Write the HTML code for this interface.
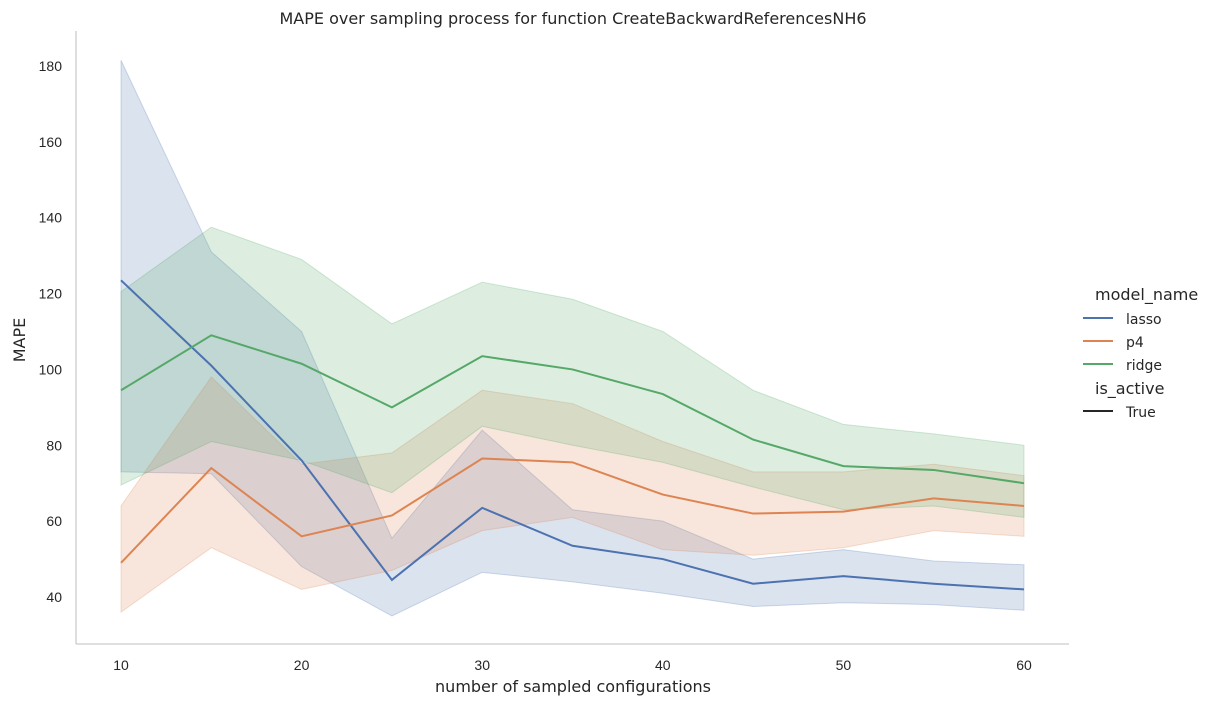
<!DOCTYPE html>
<html><head><meta charset="utf-8"><style>
body{margin:0;background:#fff;}
svg text{font-family:"DejaVu Sans","Liberation Sans",sans-serif;fill:#262626;}
svg text.tk{font-family:"Liberation Sans","DejaVu Sans",sans-serif;}
</style></head><body>
<svg id="chart" width="1216" height="706">
<text x="573" y="24" font-size="16" text-anchor="middle">MAPE over sampling process for function CreateBackwardReferencesNH6</text>
<g id="bands"></g><g id="lines"></g>
<line x1="76" y1="31" x2="76" y2="644" stroke="#ccc" stroke-width="1.3"/>
<line x1="76" y1="644" x2="1069" y2="644" stroke="#ccc" stroke-width="1.3"/>
<g id="xt"></g><g id="yt"></g>
<text x="573" y="692" font-size="16" text-anchor="middle">number of sampled configurations</text>
<text transform="translate(25,340) rotate(-90)" font-size="16" text-anchor="middle">MAPE</text>
<g>
<text x="1095" y="300" font-size="16">model_name</text>
<line x1="1083" y1="318" x2="1113" y2="318" stroke="#4c72b0" stroke-width="2"/><text x="1126" y="324" font-size="14">lasso</text>
<line x1="1083" y1="341" x2="1113" y2="341" stroke="#dd8452" stroke-width="2"/><text x="1126" y="347" font-size="14">p4</text>
<line x1="1083" y1="364" x2="1113" y2="364" stroke="#55a868" stroke-width="2"/><text x="1126" y="370" font-size="14">ridge</text>
<text x="1095" y="394" font-size="16">is_active</text>
<line x1="1083" y1="411" x2="1113" y2="411" stroke="#262626" stroke-width="2"/><text x="1126" y="417" font-size="14">True</text>
</g>
</svg>
<script>
const xs=[10,15,20,25,30,35,40,45,50,55,60];
const xTicks=[10,20,30,40,50,60];
const yTicks=[40,60,80,100,120,140,160,180];
const lassoMean=[123.5,101,76,44.5,63.5,53.5,50,43.5,45.5,43.5,42];
const lassoHi=[181.5,131,110,55.5,84,63,60,50,52.5,49.5,48.5];
const lassoLo=[73,72.5,48,35,46.5,44,41,37.5,38.5,38,36.5];
const p4Mean=[49,74,56,61.5,76.5,75.5,67,62,62.5,66,64];
const p4Hi=[64,98,75,78,94.5,91,81,73,73,75,72];
const p4Lo=[36,53,42,47,57.5,61,52.5,51,53,57.5,56];
const ridgeMean=[94.5,109,101.5,90,103.5,100,93.5,81.5,74.5,73.5,70];
const ridgeHi=[120.5,137.5,129,112,123,118.5,110,94.5,85.5,83,80];
const ridgeLo=[69.5,81,76,67.5,85,80,75.5,69,63,64,61];
const X=v=>121+(v-10)*(1024-121)/50;
const Y=v=>597-(v-40)*(597-66)/140;
const NS='http://www.w3.org/2000/svg';
function mk(t,a,p){const e=document.createElementNS(NS,t);for(const k in a)e.setAttribute(k,a[k]);p.appendChild(e);return e;}
const xt=document.getElementById('xt'),yt=document.getElementById('yt');
xTicks.forEach(v=>{const t=mk('text',{x:X(v),y:670,'font-size':14,'text-anchor':'middle',class:'tk'},xt);t.textContent=v;

});
yTicks.forEach(v=>{const t=mk('text',{x:62,y:Y(v)+5,'font-size':14,'text-anchor':'end',class:'tk'},yt);t.textContent=v;

});
const series=[['lasso','#4c72b0',lassoMean,lassoHi,lassoLo],['p4','#dd8452',p4Mean,p4Hi,p4Lo],['ridge','#55a868',ridgeMean,ridgeHi,ridgeLo]];
const B=document.getElementById('bands'),L=document.getElementById('lines');
series.forEach(([n,c,m,h,l])=>{
let d=xs.map((x,i)=>(i?'L':'M')+X(x)+','+Y(h[i])).join('')+xs.slice().reverse().map((x,j)=>{const i=xs.length-1-j;return 'L'+X(x)+','+Y(l[i]);}).join('')+'Z';
const b=mk('path',{d:d,fill:c,'fill-opacity':0.2,stroke:c,'stroke-opacity':0.25},B);


const p=mk('path',{d:xs.map((x,i)=>(i?'L':'M')+X(x)+','+Y(m[i])).join(''),fill:'none',stroke:c,'stroke-width':2},L);


});
</script>
</body></html>
